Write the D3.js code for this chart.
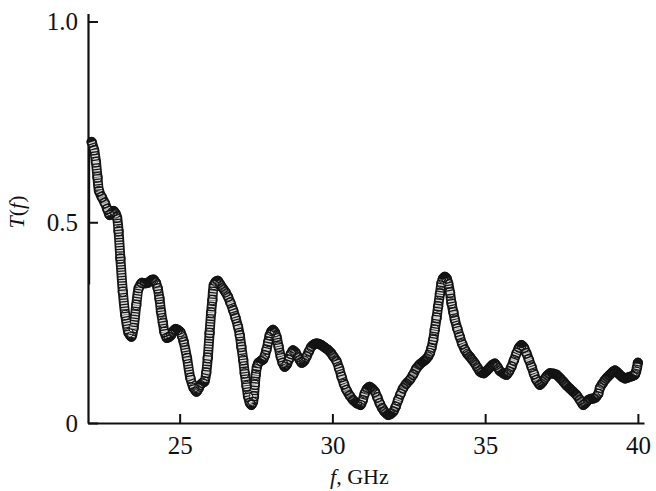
<!DOCTYPE html>
<html>
<head>
<meta charset="utf-8">
<script src="https://cdn.jsdelivr.net/npm/d3@7"></script>
<style>
  body { margin: 0; background: #fff; }
  svg { display: block; }
  .axis path, .axis line { stroke: #111; }
  .axis text { font-family: "Liberation Serif", "DejaVu Serif", serif; font-size: 25px; fill: #111; }
</style>
</head>
<body>
<svg></svg>
<script>
// frequency (GHz) and transmission T(f)
var freq = [
  22.12, 22.20, 22.26, 22.31, 22.36, 22.45, 22.55, 22.63, 22.71, 22.78,
  22.84, 22.90, 22.95, 23.00, 23.06, 23.14, 23.22, 23.33, 23.42, 23.49,
  23.58, 23.66, 23.76, 23.87, 23.98, 24.08, 24.15, 24.22, 24.28, 24.34,
  24.39, 24.45, 24.50, 24.58, 24.65, 24.72, 24.80, 24.86, 24.94, 25.02,
  25.08, 25.13, 25.24, 25.35, 25.46, 25.55, 25.62, 25.68, 25.75, 25.81,
  25.87, 25.92, 25.98, 26.03, 26.07, 26.12, 26.18, 26.25, 26.33, 26.42,
  26.50, 26.58, 26.66, 26.75, 26.83, 26.91, 26.97, 27.02, 27.08, 27.13,
  27.19, 27.24, 27.30, 27.35, 27.40, 27.43, 27.46, 27.49, 27.53, 27.58,
  27.66, 27.73, 27.79, 27.84, 27.90, 27.95, 28.01, 28.06, 28.12, 28.17,
  28.24, 28.31, 28.37, 28.44, 28.50, 28.57, 28.64, 28.71, 28.79, 28.87,
  28.94, 29.00, 29.08, 29.15, 29.23, 29.31, 29.40, 29.48, 29.56, 29.64,
  29.75, 29.86, 29.95, 30.03, 30.13, 30.22, 30.30, 30.38, 30.46, 30.57,
  30.68, 30.80, 30.92, 30.99, 31.06, 31.14, 31.22, 31.30, 31.39, 31.47,
  31.55, 31.63, 31.71, 31.82, 31.90, 31.99, 32.07, 32.15, 32.23, 32.31,
  32.42, 32.53, 32.64, 32.75, 32.86, 32.97, 33.05, 33.13, 33.19, 33.24,
  33.30, 33.35, 33.41, 33.46, 33.52, 33.57, 33.62, 33.68, 33.74, 33.79,
  33.85, 33.90, 33.96, 34.01, 34.09, 34.17, 34.25, 34.34, 34.42, 34.50,
  34.58, 34.66, 34.75, 34.83, 34.90, 34.96, 35.05, 35.15, 35.24, 35.32,
  35.40, 35.48, 35.59, 35.70, 35.78, 35.86, 35.94, 36.03, 36.11, 36.19,
  36.27, 36.35, 36.43, 36.52, 36.60, 36.68, 36.79, 36.88, 36.96, 37.04,
  37.12, 37.23, 37.34, 37.45, 37.56, 37.66, 37.77, 37.88, 37.99, 38.10,
  38.21, 38.29, 38.37, 38.45, 38.54, 38.62, 38.70, 38.76, 38.84, 38.92,
  39.00, 39.08, 39.17, 39.25, 39.33, 39.41, 39.50, 39.58, 39.66, 39.74,
  39.82, 39.90, 39.94, 39.97, 40.00
];
var trans = [
  0.700, 0.680, 0.650, 0.612, 0.578, 0.563, 0.548, 0.533, 0.518, 0.524,
  0.528, 0.522, 0.512, 0.478, 0.410, 0.327, 0.269, 0.224, 0.215, 0.236,
  0.294, 0.336, 0.349, 0.348, 0.350, 0.356, 0.357, 0.350, 0.336, 0.310,
  0.277, 0.250, 0.227, 0.212, 0.214, 0.219, 0.230, 0.234, 0.232, 0.227,
  0.216, 0.203, 0.162, 0.112, 0.087, 0.078, 0.086, 0.095, 0.100, 0.103,
  0.125, 0.162, 0.224, 0.275, 0.306, 0.344, 0.352, 0.354, 0.345, 0.335,
  0.326, 0.315, 0.300, 0.281, 0.262, 0.240, 0.218, 0.190, 0.157, 0.124,
  0.092, 0.066, 0.050, 0.045, 0.052, 0.066, 0.095, 0.120, 0.140, 0.150,
  0.155, 0.158, 0.168, 0.182, 0.202, 0.219, 0.229, 0.232, 0.226, 0.215,
  0.190, 0.165, 0.150, 0.140, 0.145, 0.157, 0.172, 0.181, 0.176, 0.165,
  0.156, 0.150, 0.155, 0.165, 0.178, 0.190, 0.196, 0.198, 0.197, 0.194,
  0.188, 0.182, 0.175, 0.166, 0.155, 0.136, 0.115, 0.097, 0.082, 0.068,
  0.057, 0.049, 0.045, 0.056, 0.074, 0.086, 0.090, 0.086, 0.078, 0.064,
  0.049, 0.037, 0.028, 0.020, 0.022, 0.028, 0.040, 0.057, 0.072, 0.086,
  0.098, 0.107, 0.120, 0.136, 0.146, 0.153, 0.158, 0.165, 0.174, 0.186,
  0.207, 0.232, 0.262, 0.290, 0.322, 0.348, 0.360, 0.364, 0.360, 0.348,
  0.325, 0.298, 0.276, 0.257, 0.235, 0.215, 0.197, 0.182, 0.172, 0.165,
  0.157, 0.149, 0.138, 0.128, 0.125, 0.124, 0.130, 0.138, 0.145, 0.148,
  0.140, 0.130, 0.124, 0.120, 0.128, 0.140, 0.156, 0.174, 0.188, 0.194,
  0.188, 0.174, 0.158, 0.140, 0.122, 0.107, 0.095, 0.102, 0.111, 0.119,
  0.124, 0.123, 0.120, 0.112, 0.103, 0.094, 0.086, 0.078, 0.070, 0.058,
  0.045, 0.050, 0.057, 0.060, 0.061, 0.064, 0.072, 0.088, 0.098, 0.107,
  0.114, 0.120, 0.127, 0.131, 0.126, 0.120, 0.114, 0.111, 0.113, 0.115,
  0.117, 0.120, 0.128, 0.138, 0.150
];
// short vertical trace at the start of the sweep (on the axis)
var leadT = [0.345, 0.712];

var xTicks = [25, 30, 35, 40];
var yTicks = [0, 0.5, 1.0];
var yTickLabels = ["0", "0.5", "1.0"];

var width = 656;
var height = 491;

var data = freq.map((f, i) => ({ f: f, t: trans[i] }));

var svg = d3.select("svg")
    .attr("width", width)
    .attr("height", height);

var xScale = d3.scaleLinear()
    .domain([22, 40.2])
    .range([88, 644]);

var yScale = d3.scaleLinear()
    .domain([0, 1.02])
    .range([423, 13.5]);

var xAxis = d3.axisBottom(xScale)
    .tickValues(xTicks)
    .tickFormat(d3.format("d"))
    .tickSizeInner(-9)
    .tickSizeOuter(0)
    .tickPadding(13);

var yAxis = d3.axisLeft(yScale)
    .tickValues(yTicks)
    .tickFormat((d, i) => yTickLabels[i])
    .tickSizeInner(-10)
    .tickSizeOuter(0)
    .tickPadding(10);

svg.append("g")
    .attr("class", "axis")
    .attr("transform", `translate(0, ${yScale(0)})`)
    .call(xAxis);

svg.append("g")
    .attr("class", "axis")
    .attr("transform", `translate(${xScale(22)}, 0)`)
    .call(yAxis);

svg.selectAll(".axis path").attr("stroke-width", 2.2);
svg.selectAll(".axis line").attr("stroke-width", 2);

// lead trace
svg.append("line")
    .attr("x1", xScale(22.05))
    .attr("x2", xScale(22.05))
    .attr("y1", yScale(leadT[0]))
    .attr("y2", yScale(leadT[1]))
    .attr("stroke", "#111")
    .attr("stroke-width", 1.3);

// band made by the densely packed markers
var line = d3.line()
    .x(d => xScale(d.f))
    .y(d => yScale(d.t))
    .curve(d3.curveCatmullRom);

svg.append("path")
    .datum(data)
    .attr("d", line)
    .attr("fill", "none")
    .attr("stroke", "#161616")
    .attr("stroke-width", 10)
    .attr("stroke-linecap", "round")
    .attr("stroke-linejoin", "round");

// where the trace is steep the rings separate and look grey
var segs = d3.pairs(data);
svg.append("g")
    .selectAll("line")
    .data(segs)
    .enter()
    .append("line")
     .attr("x1", d => xScale(d[0].f))
     .attr("y1", d => yScale(d[0].t))
     .attr("x2", d => xScale(d[1].f))
     .attr("y2", d => yScale(d[1].t))
     .attr("stroke", "#fff")
     .attr("stroke-width", 6.5)
     .attr("stroke-dasharray", "1.4 1.3")
     .attr("stroke-opacity", function(d) {
        var dx = xScale(d[1].f) - xScale(d[0].f);
        var dy = yScale(d[1].t) - yScale(d[0].t);
        var s = Math.abs(dy) / Math.sqrt(dx * dx + dy * dy);
        return Math.max(0, Math.min(1, (s - 0.7) / 0.25)) * 0.85;
     });

svg.append("g")
    .selectAll("circle")
    .data(data)
    .enter()
    .append("circle")
     .attr("cx", d => xScale(d.f))
     .attr("cy", d => yScale(d.t))
     .attr("r", 4.7)
     .attr("fill", "none")
     .attr("stroke", "#111")
     .attr("stroke-width", 1);

// axis titles
var xTitle = svg.append("text")
    .attr("x", 330)
    .attr("y", 484)
    .style("font-family", "'Liberation Serif', serif")
    .style("font-size", "22px")
    .attr("fill", "#111");
xTitle.append("tspan").style("font-style", "italic").text("f");
xTitle.append("tspan").text(", GHz");

var yTitle = svg.append("text")
    .attr("transform", "rotate(-90)")
    .attr("x", -212)
    .attr("y", 24)
    .style("text-anchor", "middle")
    .style("font-family", "'Liberation Serif', serif")
    .style("font-size", "22px")
    .attr("fill", "#111");
yTitle.append("tspan").style("font-style", "italic").text("T");
yTitle.append("tspan").text("(");
yTitle.append("tspan").style("font-style", "italic").text("f");
yTitle.append("tspan").text(")");
</script>
</body>
</html>
